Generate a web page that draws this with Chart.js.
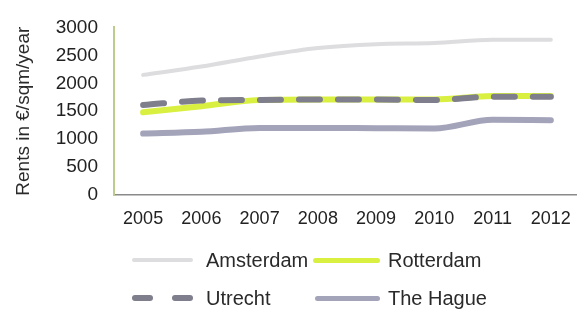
<!DOCTYPE html>
<html><head><meta charset="utf-8">
<script src="https://cdn.jsdelivr.net/npm/chart.js@4"></script>
<style>
html,body{margin:0;padding:0;background:#fff;width:577px;height:312px;overflow:hidden;}
#wrap{position:relative;width:584px;height:312px;}
canvas{position:absolute;left:0;top:0;}
.lg{position:absolute;font-family:"Liberation Sans",Arial,sans-serif;font-size:20px;color:#2a2a2a;line-height:24px;white-space:nowrap;}
.ln{position:absolute;}
</style></head>
<body>
<div id="wrap">
<canvas id="c" width="584" height="312"></canvas>
<div id="legend"></div>
</div>
<script>
const years = ['2005','2006','2007','2008','2009','2010','2011','2012'];
const amsterdam = [2150,2300,2480,2630,2700,2720,2780,2780];
const rotterdam = [1480,1590,1700,1710,1710,1710,1770,1770];
const utrecht   = [1610,1690,1700,1710,1710,1700,1760,1760];
const theHague  = [1100,1130,1200,1200,1195,1190,1345,1340];
const yTicks = [0,500,1000,1500,2000,2500,3000];
const seriesNames = ['Amsterdam','Rotterdam','Utrecht','The Hague'];

const colors = {Amsterdam:'#dddddf', Rotterdam:'#d9f040', Utrecht:'#7e7e8c', 'The Hague':'#a3a3ba'};
const FONT = '"Liberation Sans", Arial, sans-serif';

new Chart(document.getElementById('c'), {
  type:'line',
  data:{
    labels: years,
    datasets:[
      {label:seriesNames[0], data:amsterdam, borderColor:colors.Amsterdam, borderWidth:4, order:3},
      {label:seriesNames[1], data:rotterdam, borderColor:colors.Rotterdam, borderWidth:6, order:2},
      {label:seriesNames[2], data:utrecht, borderColor:colors.Utrecht, borderWidth:6, borderDash:[21,18], order:0},
      {label:seriesNames[3], data:theHague, borderColor:colors['The Hague'], borderWidth:6, order:1}
    ]
  },
  options:{
    responsive:false, animation:false,
    layout:{padding:{top:16,right:2,left:0,bottom:0}},
    elements:{point:{radius:0}, line:{cubicInterpolationMode:'monotone', borderCapStyle:'round', borderJoinStyle:'round'}},
    plugins:{legend:{display:false}, tooltip:{enabled:false}},
    scales:{
      x:{
        offset:true,
        grid:{display:false, drawTicks:false},
        border:{display:true, color:'#8a8a8a', width:1.5},
        ticks:{color:'#222', font:{family:FONT, size:18}, padding:13, maxRotation:0},
        afterFit:(s)=>{s.height = 117;}
      },
      y:{
        min:0, max:3000,
        afterBuildTicks:(s)=>{s.ticks = yTicks.map(v=>({value:v}));},
        grid:{display:false, drawTicks:false},
        border:{display:true, color:'#bccb8e', width:2},
        ticks:{color:'#222', font:{family:FONT, size:19}, padding:16, callback:(v)=>String(v)},
        title:{display:true, text:'Rents in €/sqm/year', color:'#2a2a2a', font:{family:FONT, size:19}, padding:{top:12,bottom:0}},
        afterFit:(s)=>{s.width = 114;}
      }
    }
  }
});

// HTML legend (2 x 2)
const lg = document.getElementById('legend');
function addLine(x1,x2,y,color,h){
  const d=document.createElement('div'); d.className='ln';
  d.style.left=x1+'px'; d.style.width=(x2-x1)+'px'; d.style.top=(y-h/2)+'px'; d.style.height=h+'px';
  d.style.background=color; d.style.borderRadius=(h/2)+'px'; lg.appendChild(d);
}
function addText(x,y,t){
  const d=document.createElement('div'); d.className='lg'; d.textContent=t;
  d.style.left=x+'px'; d.style.top=(y-12)+'px'; lg.appendChild(d);
}
addLine(132,193,260,colors.Amsterdam,4); addText(206,260,seriesNames[0]);
addLine(313,380,260,colors.Rotterdam,5); addText(388,260,seriesNames[1]);
addLine(132,153,298,colors.Utrecht,6); addLine(172,193,298,colors.Utrecht,6); addText(206,298,seriesNames[2]);
addLine(315,380,298,colors['The Hague'],5); addText(388,298,seriesNames[3]);
</script>
</body></html>
